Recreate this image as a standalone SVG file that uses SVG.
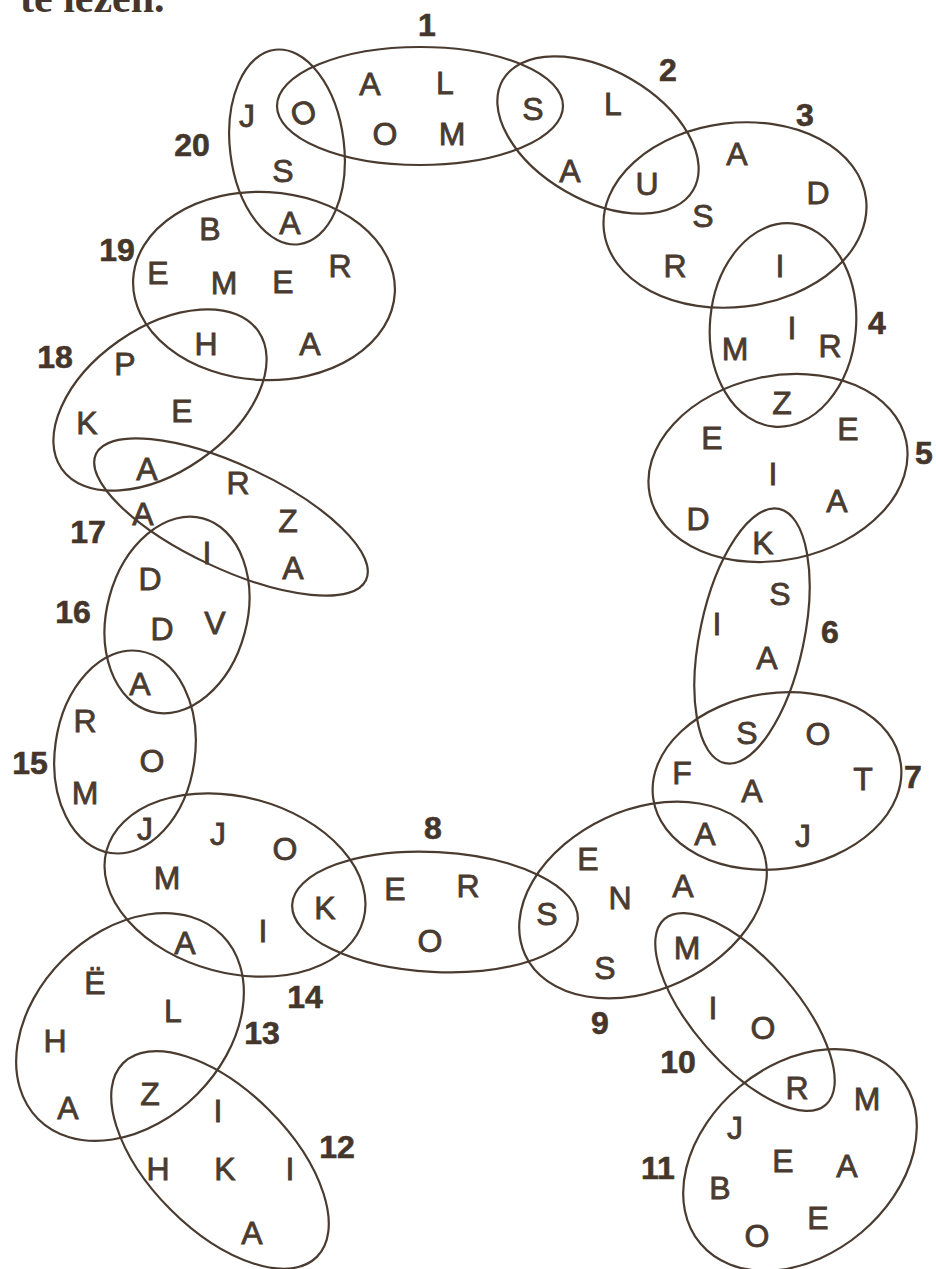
<svg xmlns="http://www.w3.org/2000/svg" width="936" height="1269" viewBox="0 0 936 1269">
<style>
.e{fill:none;stroke:#4a3b30;stroke-width:2.2}
.t{font-family:"Liberation Sans","DejaVu Sans",sans-serif;font-size:32px;fill:#4a3b30;stroke:#4a3b30;stroke-width:0.8;text-anchor:middle}
.n{font-family:"Liberation Sans","DejaVu Sans",sans-serif;font-size:32px;font-weight:bold;fill:#45362c;stroke:#45362c;stroke-width:0.6;text-anchor:middle}
.h{font-family:"Liberation Serif","DejaVu Serif",serif;font-size:42px;font-weight:bold;fill:#45362c}
</style>
<rect width="936" height="1269" fill="#fff"/>
<text class="h" x="20" y="12">te lezen.</text>

<g id="n1">
<ellipse class="e" cx="420" cy="106" rx="143" ry="59"/>
<text class="n" x="427" y="36">1</text>
<text class="t" x="370" y="95">A</text><text class="t" x="445" y="94">L</text>
<text class="t" x="385" y="145">O</text><text class="t" x="452" y="145">M</text>
<text class="t" x="533" y="120">S</text>
</g>
<g id="n2">
<ellipse class="e" cx="598" cy="135" rx="110" ry="65" transform="rotate(30 598 135)"/>
<text class="n" x="668" y="81">2</text>
<text class="t" x="613" y="115">L</text><text class="t" x="570" y="182">A</text>
<text class="t" x="647" y="195">U</text>
</g>
<g id="n3">
<ellipse class="e" cx="735" cy="215" rx="132" ry="92" transform="rotate(-7 735 215)"/>
<text class="n" x="805" y="126">3</text>
<text class="t" x="737" y="165">A</text><text class="t" x="818" y="204">D</text>
<text class="t" x="703" y="227">S</text><text class="t" x="675" y="277">R</text>
<text class="t" x="780" y="277">I</text>
</g>
<g id="n4">
<ellipse class="e" cx="783" cy="325" rx="73" ry="102" transform="rotate(5 783 325)"/>
<text class="n" x="877" y="334">4</text>
<text class="t" x="735" y="360">M</text><text class="t" x="792" y="339">I</text>
<text class="t" x="830" y="357">R</text><text class="t" x="782" y="414">Z</text>
</g>
<g id="n5">
<ellipse class="e" cx="778" cy="468" rx="131" ry="92" transform="rotate(-12 778 468)"/>
<text class="n" x="924" y="464">5</text>
<text class="t" x="712" y="449">E</text><text class="t" x="848" y="440">E</text>
<text class="t" x="773" y="485">I</text><text class="t" x="698" y="530">D</text>
<text class="t" x="837" y="512">A</text><text class="t" x="763" y="554">K</text>
</g>
<g id="n6">
<ellipse class="e" cx="752" cy="636" rx="52" ry="130" transform="rotate(12 752 636)"/>
<text class="n" x="830" y="643">6</text>
<text class="t" x="780" y="605">S</text><text class="t" x="717" y="635">I</text>
<text class="t" x="767" y="669">A</text><text class="t" x="747" y="744">S</text>
</g>
<g id="n7">
<ellipse class="e" cx="777" cy="781" rx="125" ry="88" transform="rotate(-8 777 781)"/>
<text class="n" x="913" y="788">7</text>
<text class="t" x="818" y="745">O</text><text class="t" x="682" y="784">F</text>
<text class="t" x="752" y="802">A</text><text class="t" x="863" y="790">T</text>
<text class="t" x="705" y="845">A</text><text class="t" x="803" y="847">J</text>
</g>
<g id="n8">
<ellipse class="e" cx="435" cy="912" rx="143" ry="60" transform="rotate(3 435 912)"/>
<text class="n" x="433" y="839">8</text>
<text class="t" x="325" y="919">K</text><text class="t" x="395" y="900">E</text>
<text class="t" x="468" y="897">R</text><text class="t" x="430" y="952">O</text>
<text class="t" x="547" y="925">S</text>
</g>
<g id="n9">
<ellipse class="e" cx="643" cy="900" rx="130" ry="90" transform="rotate(-25 643 900)"/>
<text class="n" x="600" y="1034">9</text>
<text class="t" x="588" y="870">E</text><text class="t" x="620" y="909">N</text>
<text class="t" x="683" y="897">A</text><text class="t" x="605" y="979">S</text>
<text class="t" x="687" y="959">M</text>
</g>
<g id="n10">
<ellipse class="e" cx="745" cy="1012" rx="123" ry="52" transform="rotate(49 745 1012)"/>
<text class="n" x="678" y="1073">10</text>
<text class="t" x="713" y="1019">I</text><text class="t" x="763" y="1039">O</text>
<text class="t" x="797" y="1099">R</text>
</g>
<g id="n11">
<ellipse class="e" cx="800" cy="1160" rx="130" ry="95" transform="rotate(-40 800 1160)"/>
<text class="n" x="658" y="1179">11</text>
<text class="t" x="867" y="1110">M</text><text class="t" x="735" y="1139">J</text>
<text class="t" x="783" y="1172">E</text><text class="t" x="847" y="1177">A</text>
<text class="t" x="720" y="1199">B</text><text class="t" x="818" y="1229">E</text>
<text class="t" x="757" y="1247">O</text>
</g>
<g id="n12">
<ellipse class="e" cx="220" cy="1160" rx="137" ry="70" transform="rotate(45 220 1160)"/>
<text class="n" x="337" y="1158">12</text>
<text class="t" x="218" y="1122">I</text><text class="t" x="158" y="1180">H</text>
<text class="t" x="225" y="1180">K</text><text class="t" x="290" y="1180">I</text>
<text class="t" x="252" y="1244">A</text>
</g>
<g id="n13">
<ellipse class="e" cx="130" cy="1027" rx="130" ry="95" transform="rotate(-45 130 1027)"/>
<text class="n" x="262" y="1044">13</text>
<text class="t" x="95" y="994">Ë</text><text class="t" x="173" y="1022">L</text>
<text class="t" x="55" y="1052">H</text><text class="t" x="68" y="1119">A</text>
<text class="t" x="150" y="1105">Z</text>
</g>
<g id="n14">
<ellipse class="e" cx="235" cy="885" rx="133" ry="88" transform="rotate(15 235 885)"/>
<text class="n" x="305" y="1008">14</text>
<text class="t" x="218" y="845">J</text><text class="t" x="285" y="860">O</text>
<text class="t" x="167" y="889">M</text><text class="t" x="263" y="942">I</text>
<text class="t" x="185" y="954">A</text>
</g>
<g id="n15">
<ellipse class="e" cx="125" cy="752" rx="70" ry="102" transform="rotate(8 125 752)"/>
<text class="n" x="30" y="774">15</text>
<text class="t" x="85" y="732">R</text><text class="t" x="152" y="772">O</text>
<text class="t" x="85" y="804">M</text><text class="t" x="145" y="840">J</text>
</g>
<g id="n16">
<ellipse class="e" cx="177" cy="615" rx="70" ry="100" transform="rotate(15 177 615)"/>
<text class="n" x="73" y="623">16</text>
<text class="t" x="150" y="590">D</text><text class="t" x="162" y="640">D</text>
<text class="t" x="215" y="634">V</text><text class="t" x="140" y="695">A</text>
</g>
<g id="n17">
<ellipse class="e" cx="231" cy="517" rx="149" ry="52" transform="rotate(25 231 517)"/>
<text class="n" x="88" y="543">17</text>
<text class="t" x="238" y="494">R</text><text class="t" x="143" y="525">A</text>
<text class="t" x="288" y="532">Z</text><text class="t" x="207" y="564">I</text>
<text class="t" x="293" y="579">A</text>
</g>
<g id="n18">
<ellipse class="e" cx="160" cy="400" rx="120" ry="72" transform="rotate(-35 160 400)"/>
<text class="n" x="55" y="368">18</text>
<text class="t" x="125" y="375">P</text><text class="t" x="182" y="422">E</text>
<text class="t" x="87" y="434">K</text><text class="t" x="147" y="480">A</text>
</g>
<g id="n19">
<ellipse class="e" cx="264" cy="286" rx="131" ry="94" transform="rotate(3 264 286)"/>
<text class="n" x="117" y="261">19</text>
<text class="t" x="210" y="240">B</text><text class="t" x="158" y="284">E</text>
<text class="t" x="224" y="294">M</text><text class="t" x="283" y="293">E</text>
<text class="t" x="340" y="277">R</text><text class="t" x="206" y="355">H</text>
<text class="t" x="310" y="355">A</text>
</g>
<g id="n20">
<ellipse class="e" cx="287" cy="147" rx="57" ry="98" transform="rotate(-7 287 147)"/>
<text class="n" x="192" y="156">20</text>
<text class="t" x="247" y="127">J</text>
<text class="t" x="303" y="124" transform="rotate(-20 303 112)">O</text>
<text class="t" x="283" y="182">S</text><text class="t" x="290" y="234">A</text>
</g>
</svg>
